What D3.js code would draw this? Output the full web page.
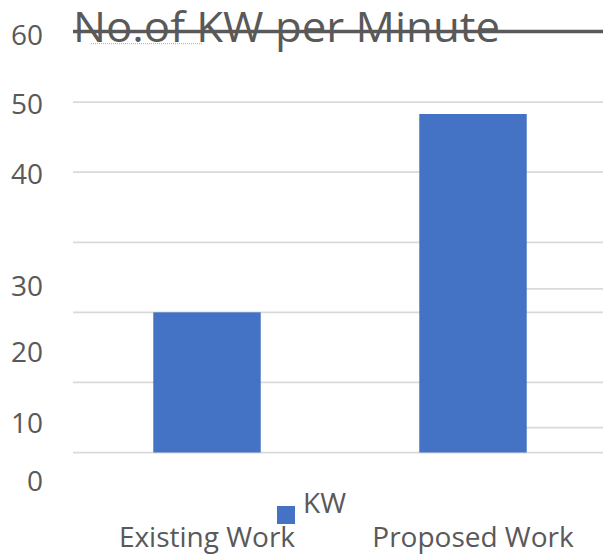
<!DOCTYPE html>
<html>
<head>
<meta charset="utf-8">
<script src="https://cdn.jsdelivr.net/npm/d3@7"></script>
<style>
  html, body { margin: 0; padding: 0; background: #fff; }
  svg { display: block; }
</style>
</head>
<body>
<svg id="chart" width="603" height="555"></svg>
<script>
// ---- data ----
const categories = ["Existing Work", "Proposed Work"];
const kwValues = [20, 48.3];
const seriesName = "KW";
const titleText = "No.of KW per Minute";
const gridValues = [0, 10, 20, 30, 40, 50, 60];
const tickLabels = ["0", "10", "20", "30", "40", "50", "60"];
// where each tick label sits in the picture, in data units (labels are displaced)
const tickLabelAt = [-4.0, 4.2, 14.4, 23.7, 39.7, 49.7, 59.6];
// stray gridline fragments on the right side, in data units
const strayGridValues = [23.35, 3.55];

// ---- drawing ----
const W = 603, H = 555;
const svg = d3.select("#chart");
const font = "'Open Sans', 'Liberation Sans', Arial, sans-serif";
const textColor = "#595959";

const y = d3.scaleLinear().domain([0, 60]).range([452.5, 32]);
const x = d3.scaleBand().domain(categories).range([74, 606])
  .paddingInner(0.596).paddingOuter(0.298);
const gridLeft = 73, gridRight = 603;

// gridlines
svg.append("g").selectAll("line").data(gridValues.filter(v => v !== 60)).join("line")
  .attr("x1", gridLeft).attr("x2", gridRight)
  .attr("y1", d => y(d)).attr("y2", d => y(d))
  .attr("stroke", "#d9d9d9").attr("stroke-width", 1.75);

// stray fragments
svg.append("g").selectAll("line").data(strayGridValues).join("line")
  .attr("x1", x(categories[1])).attr("x2", gridRight)
  .attr("y1", d => y(d)).attr("y2", d => y(d))
  .attr("stroke", "#d9d9d9").attr("stroke-width", 1.75);

// bars
svg.append("g").selectAll("rect").data(categories).join("rect")
  .attr("x", d => x(d))
  .attr("width", x.bandwidth())
  .attr("y", (d, i) => y(kwValues[i]))
  .attr("height", (d, i) => y(0) - y(kwValues[i]))
  .attr("fill", "#4472C4");

// title
const title = svg.append("text")
  .attr("x", 73).attr("y", 42)
  .attr("font-family", font).attr("font-size", 42)
  .attr("fill", textColor)
  .text(titleText);
const tl = title.node().getComputedTextLength();
if (Math.abs(tl - 427) > 4) title.attr("textLength", 427).attr("lengthAdjust", "spacingAndGlyphs");

// red spell-check squiggle under "No.of"
svg.append("line")
  .attr("x1", 91).attr("x2", 203).attr("y1", 43.7).attr("y2", 43.7)
  .attr("stroke", "#f08a8a").attr("stroke-width", 1)
  .attr("stroke-dasharray", "1,1");

// top (60) line, dark, crossing the title
svg.append("line")
  .attr("x1", gridLeft).attr("x2", gridRight)
  .attr("y1", y(60) - 0.5).attr("y2", y(60) - 0.5)
  .attr("stroke", textColor).attr("stroke-width", 3.5);

// y tick labels
svg.append("g").selectAll("text").data(tickLabels).join("text")
  .attr("x", 43)
  .attr("y", (d, i) => y(tickLabelAt[i]))
  .attr("dy", "0.36em")
  .attr("text-anchor", "end")
  .attr("font-family", font).attr("font-size", 28)
  .attr("fill", textColor)
  .text(d => d);

// x category labels
svg.append("g").selectAll("text").data(categories).join("text")
  .attr("x", d => x(d) + x.bandwidth() / 2)
  .attr("y", 546.5)
  .attr("text-anchor", "middle")
  .attr("font-family", font).attr("font-size", 28)
  .attr("fill", textColor)
  .text(d => d);

// legend
svg.append("rect")
  .attr("x", 277).attr("y", 506).attr("width", 18).attr("height", 18)
  .attr("fill", "#4472C4");
svg.append("text")
  .attr("x", 303).attr("y", 513.3)
  .attr("font-family", font).attr("font-size", 28)
  .attr("fill", textColor)
  .text(seriesName);
</script>
</body>
</html>
